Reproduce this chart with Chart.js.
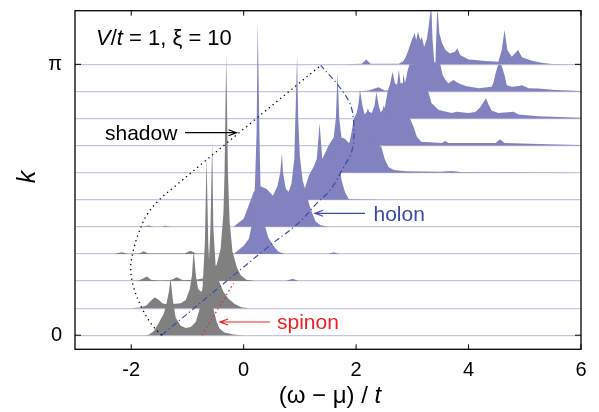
<!DOCTYPE html>
<html>
<head>
<meta charset="utf-8">
<script src="https://cdn.jsdelivr.net/npm/chart.js@4.4.0/dist/chart.umd.min.js"></script>
<style>
  html, body { margin: 0; padding: 0; background: #fff; }
  canvas { display: block; }
</style>
</head>
<body>
<canvas id="spectra" width="599" height="412"></canvas>
<script>
// waterfall of A(k, w): one filled trace per k row, row 0 = k 0 ... row 10 = k pi
// each point is [omega, height above the row baseline], height in row spacings

const kTicks = [0, 10];
const kLabels = ['0', 'π'];
const omegaTicks = [-2, 0, 2, 4, 6];

// occupied side (gray)
const row0Gray = [[-2.2,0],[-1.75,0],[-1.69,0.02],[-1.60,0.15],[-1.51,0.45],[-1.42,0.8],[-1.37,1.2],[-1.33,1.6],[-1.30,2.1],[-1.26,1.3],[-1.21,0.65],[-1.12,0.35],[-1.03,0.27],[-0.94,0.3],[-0.85,0.5],[-0.78,1.0],[-0.73,1.8],[-0.69,3.4],[-0.66,6.6],[-0.63,3.4],[-0.59,1.6],[-0.53,0.9],[-0.48,0.5],[-0.43,0.25],[-0.34,0.1],[-0.18,0.03],[0,0]];
const row1Gray = [[-2.0,0],[-1.81,0.03],[-1.72,0.12],[-1.65,0.27],[-1.58,0.4],[-1.51,0.3],[-1.44,0.17],[-1.37,0.14],[-1.26,0.15],[-1.12,0.18],[-1.03,0.3],[-0.96,0.7],[-0.92,1.2],[-0.89,2.14],[-0.85,1.2],[-0.81,0.7],[-0.75,0.6],[-0.68,0.9],[-0.62,1.6],[-0.59,3.0],[-0.56,6.2],[-0.54,3.0],[-0.50,1.6],[-0.44,1.0],[-0.36,0.6],[-0.27,0.35],[-0.16,0.15],[-0.04,0.03],[0.1,0]];
const row2Gray = [[-2.0,0],[-1.87,0.02],[-1.78,0.1],[-1.72,0.17],[-1.65,0.05],[-1.5,0.02],[-1.30,0.03],[-1.19,0.14],[-1.08,0.03],[-0.85,0.05],[-0.71,0.1],[-0.59,0.3],[-0.48,0.6],[-0.41,1.2],[-0.36,2.5],[-0.34,4.0],[-0.31,8.4],[-0.28,4.0],[-0.25,2.2],[-0.20,1.1],[-0.12,0.5],[-0.05,0.2],[0.05,0.05],[0.2,0]];
const row3Gray = [[-2.3,0],[-2.17,0.06],[-2.05,0],[-1.85,0.02],[-1.78,0.1],[-1.70,0.02],[-1.05,0.02],[-0.95,0.12],[-0.85,0.02],[-0.6,0]];
const row4Gray = [[-1.8,0],[-1.69,0.05],[-1.6,0],[-1.45,0],[-1.4,0.04],[-1.3,0]];

// empty side (purple)
const row2Purple = [[0.75,0],[0.87,0.08],[0.98,0]];
const row3Purple = [[-0.18,0],[-0.09,0.15],[0,0.3],[0.09,0.55],[0.16,1.2],[0.20,2.5],[0.23,4.5],[0.25,8.57],[0.28,4.5],[0.30,2.4],[0.36,1.15],[0.44,0.6],[0.53,0.3],[0.62,0.08],[0.73,0],[1.5,0],[1.6,0.06],[1.7,0]];
const row4Purple = [[-0.18,0],[0,0.3],[0.09,0.8],[0.18,1.3],[0.30,1.5],[0.41,1.4],[0.52,1.15],[0.60,1.5],[0.65,2.0],[0.68,2.72],[0.70,2.0],[0.75,1.4],[0.80,1.3],[0.85,1.6],[0.90,2.5],[0.92,4.0],[0.95,6.34],[0.97,4.0],[1.00,2.6],[1.05,1.7],[1.12,1.2],[1.17,0.8],[1.23,0.45],[1.28,0.2],[1.37,0.06],[1.51,0]];
const row5Purple = [[0.9,0],[1.07,0.3],[1.16,0.9],[1.24,1.2],[1.30,1.5],[1.32,2.0],[1.35,2.83],[1.38,2.0],[1.40,1.5],[1.45,1.6],[1.49,1.84],[1.53,1.5],[1.60,1.5],[1.70,1.4],[1.74,0.73],[1.80,0.3],[1.87,0.02],[2.5,0]];
const row6Purple = [[1.28,0],[1.42,0.6],[1.51,1.0],[1.60,1.3],[1.64,2.0],[1.67,3.7],[1.70,2.0],[1.74,1.3],[1.80,1.25],[1.87,1.1],[1.96,1.15],[2.04,1.2],[2.22,1.2],[2.36,1.1],[2.45,0.95],[2.51,0.5],[2.58,0.2],[2.67,0.1],[2.9,0.05],[3.5,0.03],[3.7,0.06],[3.9,0.02],[6,0]];
const row7Purple = [[1.87,0],[1.92,0.5],[1.96,1.0],[2.01,1.2],[2.04,1.5],[2.07,2.05],[2.11,1.5],[2.15,1.15],[2.19,1.25],[2.21,1.38],[2.23,1.25],[2.28,1.2],[2.33,1.5],[2.36,1.98],[2.40,1.5],[2.44,1.2],[2.47,1.3],[2.49,1.5],[2.52,1.3],[2.54,1.15],[2.67,1.2],[2.84,1.2],[2.96,1.0],[3.02,0.7],[3.08,0.33],[3.16,0.14],[3.52,0.1],[3.59,0.17],[3.64,0.1],[4.48,0.1],[4.56,0.23],[4.64,0.1],[5.6,0.04],[6.0,0.02]];
const row8Purple = [[2.2,0],[2.31,0.05],[2.40,0.15],[2.51,0.4],[2.56,1.0],[2.60,1.25],[2.65,1.73],[2.69,1.3],[2.73,1.25],[2.76,1.81],[2.79,1.3],[2.83,1.3],[2.84,1.66],[2.87,1.3],[2.90,1.2],[3.11,1.2],[3.25,1.05],[3.29,0.95],[3.34,0.57],[3.47,0.31],[3.70,0.2],[3.79,0.25],[4.00,0.2],[4.12,0.24],[4.20,0.4],[4.25,0.55],[4.31,0.75],[4.36,0.5],[4.41,0.3],[4.53,0.2],[4.80,0.25],[4.89,0.15],[5.24,0.08],[6.0,0.03]];
const row9Purple = [[2.0,0],[2.22,0.03],[2.40,0.15],[2.51,0.03],[2.83,0.05],[2.88,0.4],[2.92,0.8],[2.95,1.0],[3.47,1.02],[3.50,0.97],[3.54,0.6],[3.59,0.42],[3.64,0.3],[3.73,0.42],[3.82,0.3],[3.95,0.2],[4.18,0.12],[4.41,0.17],[4.44,0.3],[4.48,0.66],[4.52,0.95],[4.55,1.0],[4.59,0.95],[4.64,0.6],[4.68,0.23],[4.77,0.17],[4.89,0.2],[4.95,0.23],[5.07,0.12],[5.24,0.11],[5.55,0.05],[6.0,0.02]];
const row10Purple = [[1.8,0],[2.1,0.02],[2.18,0.18],[2.26,0.02],[2.76,0.02],[2.83,0.1],[2.88,0.25],[2.93,0.53],[2.99,0.9],[3.04,1.15],[3.07,0.9],[3.10,1.2],[3.14,0.9],[3.17,1.0],[3.21,0.65],[3.26,0.95],[3.29,1.4],[3.32,1.9],[3.34,2.05],[3.36,0.9],[3.39,0.1],[3.41,0.05],[3.44,1.9],[3.45,2.05],[3.48,1.15],[3.53,0.78],[3.59,0.53],[3.67,0.4],[3.76,0.46],[3.80,0.59],[3.85,0.34],[4.00,0.18],[4.12,0.16],[4.30,0.12],[4.53,0.1],[4.59,0.53],[4.64,1.27],[4.69,0.53],[4.77,0.28],[4.88,0.53],[4.95,0.26],[5.13,0.13],[5.30,0.06],[5.48,0.01],[6.0,0]];

const grayRows = [row0Gray, row1Gray, row2Gray, row3Gray, row4Gray];
const purpleRows = [[], [], row2Purple, row3Purple, row4Purple, row5Purple, row6Purple, row7Purple, row8Purple, row9Purple, row10Purple];

// guide lines, [omega, k row]
const shadowLine = [[-1.46,0],[-1.63,0.38],[-1.81,1.0],[-1.96,1.79],[-2.01,2.5],[-1.96,3.15],[-1.87,3.76],[-1.72,4.45],[-1.5,5.0],[-1.25,5.45],[0.05,7.7],[1.37,9.96]];
const holonLine = [[-1.46,0],[0.44,3.27],[0.98,4.15],[1.30,4.87],[1.54,5.36],[1.75,6.1],[1.93,6.84],[1.96,7.7],[1.90,8.5],[1.69,9.2],[1.37,9.96]];
const spinonLine = [[-0.74,0],[-0.18,1.92]];

const FONT = '"Liberation Sans", Arial, Helvetica, sans-serif';
const GRAY = '#808080';
const PURPLE = '#8282c0';
const BLUE = '#3a4aa8';
const RED = '#ee2222';

const trace = (pts, row, color) => ({
    data: pts.map(p => ({ x: p[0], y: row + p[1] })),
    borderColor: color,
    borderWidth: 0,
    backgroundColor: color,
    fill: { value: row },
    pointRadius: 0,
    tension: 0
});

const guide = (pts, color, dash, width) => ({
    data: pts.map(p => ({ x: p[0], y: p[1] })),
    borderColor: color,
    borderWidth: width,
    borderDash: dash,
    fill: false,
    pointRadius: 0,
    tension: 0.35
});

// first dataset is painted last, so guides go first and low k rows sit in front
const datasets = [
    guide(shadowLine, '#000', [1.3, 3.6], 1.3),
    guide(holonLine, BLUE, [6, 3, 1.3, 3], 1.2),
    guide(spinonLine, RED, [1.3, 3], 1.3)
];
purpleRows.forEach((pts, i) => {
    if (grayRows[i]) datasets.push(trace(grayRows[i], i, GRAY));
    if (pts.length) datasets.push(trace(pts, i, PURPLE));
});

const arrow = (ctx, x1, y, x2, color) => {
    const dir = Math.sign(x2 - x1);
    ctx.strokeStyle = color;
    ctx.lineWidth = 1.2;
    ctx.beginPath();
    ctx.moveTo(x1, y);
    ctx.lineTo(x2, y);
    ctx.moveTo(x2 - dir * 8, y - 3);
    ctx.lineTo(x2, y);
    ctx.lineTo(x2 - dir * 8, y + 3);
    ctx.stroke();
};

const runs = (ctx, parts, x0, yb, size) => {
    let cx = x0;
    parts.forEach(([t, italic]) => {
        ctx.font = (italic ? 'italic ' : '') + size + 'px ' + FONT;
        ctx.fillText(t, cx, yb);
        cx += ctx.measureText(t).width;
    });
};

const runsWidth = (ctx, parts, size) => parts.reduce((w, [t, italic]) => {
    ctx.font = (italic ? 'italic ' : '') + size + 'px ' + FONT;
    return w + ctx.measureText(t).width;
}, 0);

const decorations = {
    id: 'decorations',
    afterDraw(chart) {
        const { ctx, chartArea: a, scales: { x, y } } = chart;
        ctx.save();
        ctx.strokeStyle = '#000';
        ctx.lineWidth = 1.3;
        ctx.strokeRect(a.left, a.top, a.right - a.left, a.bottom - a.top);

        // inward tick marks on all four sides
        ctx.lineWidth = 1;
        ctx.beginPath();
        omegaTicks.forEach(v => {
            const px = x.getPixelForValue(v);
            ctx.moveTo(px, a.bottom); ctx.lineTo(px, a.bottom - 5);
            ctx.moveTo(px, a.top); ctx.lineTo(px, a.top + 5);
        });
        kTicks.forEach(v => {
            const py = y.getPixelForValue(v);
            ctx.moveTo(a.left, py); ctx.lineTo(a.left + 6, py);
            ctx.moveTo(a.right, py); ctx.lineTo(a.right - 6, py);
        });
        ctx.stroke();

        ctx.textBaseline = 'alphabetic';
        ctx.textAlign = 'left';
        ctx.fillStyle = '#000';
        runs(ctx, [['V', true], ['/', false], ['t', true], [' = 1, ξ = 10', false]], 96, 45, 22);

        ctx.font = '21px ' + FONT;
        ctx.fillText('shadow', 105, 139.5);
        arrow(ctx, 185, 132.7, 236.5, '#000');

        ctx.fillStyle = BLUE;
        ctx.fillText('holon', 373.5, 221);
        arrow(ctx, 365, 213.3, 315, BLUE);

        ctx.fillStyle = RED;
        ctx.fillText('spinon', 277, 328.5);
        arrow(ctx, 270, 322, 220, RED);

        // axis titles
        ctx.fillStyle = '#000';
        const xt = [['(ω − μ) / ', false], ['t', true]];
        const w = runsWidth(ctx, xt, 24);
        runs(ctx, xt, 330 - w / 2, 402.5, 24);

        ctx.translate(35, 177);
        ctx.rotate(-Math.PI / 2);
        ctx.textAlign = 'center';
        ctx.font = 'italic 25px ' + FONT;
        ctx.fillText('k', 0, 0);
        ctx.restore();
    }
};

new Chart(document.getElementById('spectra'), {
    type: 'line',
    data: { datasets },
    options: {
        responsive: false,
        animation: false,
        devicePixelRatio: 1,
        layout: { padding: { top: 10.7, right: 18, left: 0, bottom: 0 } },
        plugins: { legend: { display: false }, tooltip: { enabled: false } },
        scales: {
            x: {
                type: 'linear',
                min: -3,
                max: 6,
                afterBuildTicks: axis => { axis.ticks = omegaTicks.map(v => ({ value: v })); },
                afterFit: axis => { axis.height = 62.7; axis.paddingLeft = 0; axis.paddingRight = 0; },
                grid: { display: false, drawTicks: false },
                border: { display: false },
                ticks: { color: '#000', padding: 9, font: { family: FONT, size: 20 }, maxRotation: 0 }
            },
            y: {
                type: 'linear',
                min: -0.52,
                max: 11.98,
                afterBuildTicks: axis => { axis.ticks = purpleRows.map((r, i) => ({ value: i })); },
                afterFit: axis => { axis.width = 75; axis.paddingTop = 0; axis.paddingBottom = 0; },
                grid: { color: '#c4c4dc', lineWidth: 1.2, drawTicks: false },
                border: { display: false },
                ticks: {
                    color: '#000',
                    padding: 13,
                    autoSkip: false,
                    font: { family: FONT, size: 20 },
                    callback: v => (kTicks.includes(v) ? kLabels[kTicks.indexOf(v)] : '')
                }
            }
        }
    },
    plugins: [decorations]
});
</script>
</body>
</html>
